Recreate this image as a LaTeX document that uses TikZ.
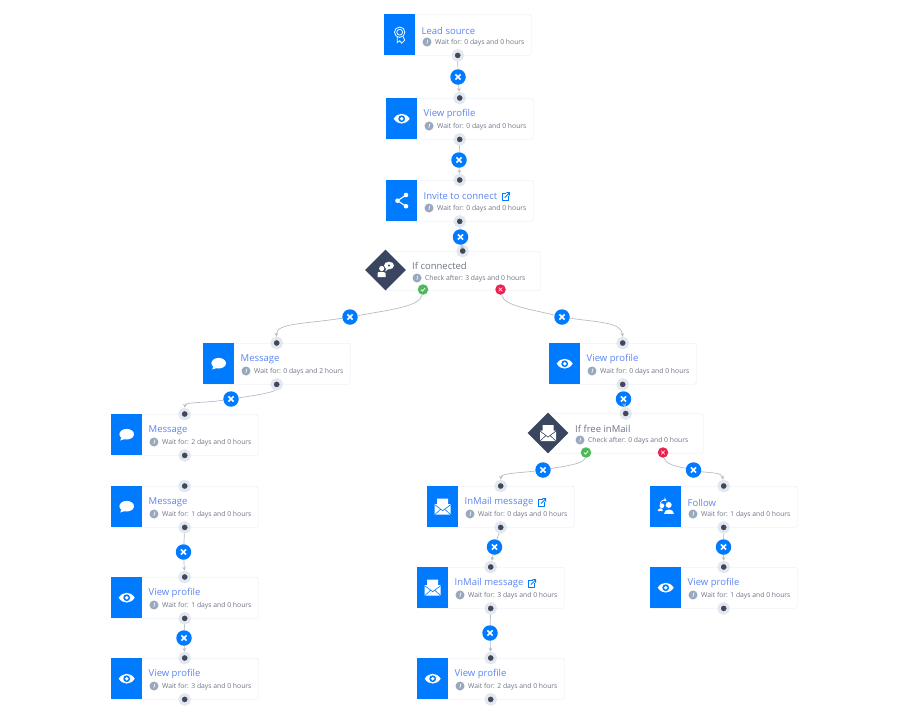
\documentclass[tikz,border=0pt]{standalone}
\usepackage{fontspec}
\setmainfont{Open Sans}
\usetikzlibrary{calc,shapes.geometric}
\definecolor{flowblue}{HTML}{007BFF}
\definecolor{flowdark}{HTML}{3A4560}
\definecolor{flowedge}{HTML}{DFEAF5}
\definecolor{flowtitle}{HTML}{5C85F5}
\definecolor{flowgrey}{HTML}{6E7585}
\definecolor{flowclock}{HTML}{9AA8BD}
\definecolor{flowline}{HTML}{B8BCC6}
\definecolor{flowport}{HTML}{E3E8F0}
\definecolor{flowdot}{HTML}{414858}
\definecolor{flowyes}{HTML}{4CBA5A}
\definecolor{flowno}{HTML}{E8234F}
\begin{document}
\begin{tikzpicture}[x=1pt,y=-1pt,>=stealth,
    card/.style={draw=flowedge,rounded corners=1.5pt,fill=white,minimum width=147pt,minimum height=41pt,inner sep=0pt,anchor=north west},
    ifcard/.style={card,minimum width=155pt,minimum height=39.5pt},
    bluebox/.style={fill=flowblue,minimum width=31pt,minimum height=41pt,inner sep=0pt,anchor=north west},
    gem/.style={diamond,aspect=1,fill=flowdark,minimum width=41pt,minimum height=41pt,inner sep=0pt},
    ttl/.style={font=\fontsize{9.5}{11}\selectfont,text=flowtitle,inner sep=0pt,anchor=west},
    iftxt/.style={ttl,text=flowgrey},
    sub/.style={font=\fontsize{6.8}{8}\selectfont,text=flowgrey,inner sep=0pt,anchor=west},
    clock/.style={circle,fill=flowclock,minimum size=9pt,inner sep=0pt},
    port/.style={circle,fill=flowdot,draw=flowport,line width=3.2pt,minimum size=9.4pt,inner sep=0pt},
    xbtn/.style={circle,fill=flowblue,minimum size=15.5pt,inner sep=0pt},
    yes/.style={circle,fill=flowyes,minimum size=10.5pt,inner sep=0pt},
    no/.style={circle,fill=flowno,minimum size=10.5pt,inner sep=0pt},
    link/.style={draw=flowline,line width=.7pt},
    eyeicon/.pic={\fill[white] (-8,0) .. controls (-4,-6.5) and (4,-6.5) .. (8,0) .. controls (4,6.5) and (-4,6.5) .. (-8,0) -- cycle;
      \fill[flowblue] (0,0) circle (3.4); \fill[white] (0,0) circle (1.9);},
    chaticon/.pic={\fill[white] (0,-.5) ellipse (7.3 and 5.3); \fill[white] (-5,2) -- (-6.5,5.8) -- (-1,4) -- cycle;},
    shareicon/.pic={\draw[white,line width=1.1pt] (4.3,-5.7) -- (-4.2,0) -- (4.3,5.5);
      \fill[white] (4.3,-5.7) circle (2.3) (-4.2,0) circle (2.3) (4.3,5.5) circle (2.3);},
    mailicon/.pic={\fill[white] (-8,-2.5) -- (-5.5,-2.5) -- (-5.5,-8) -- (5.5,-8) -- (5.5,-2.5) -- (8,-2.5) -- (8,8) -- (-8,8) -- cycle;
      \draw[pic actions,line width=.6pt] (-8,-2) -- (0,4) -- (8,-2) (-8,8) -- (-2,2.5) (8,8) -- (2,2.5);},
    awardicon/.pic={\draw[white,line width=.8pt] (0,-2.5) circle (5.2) (0,-2.5) circle (2.9);
      \draw[white,line width=.8pt] (-2.5,2) -- (-2.5,8) -- (0,6) -- (2,8.5) -- (5,5.5) -- (3.5,2);},
    followicon/.pic={\fill[white] (3,-1.8) circle (3) (-3.8,-1) circle (2.4);
      \fill[white] (-2,7) .. controls (-2,1.5) and (8,1.5) .. (8,7) -- cycle;
      \fill[white] (-8,4.5) .. controls (-8,1) and (-3,1) .. (-3,3) -- (-3,4.5) -- cycle;
      \draw[white,line width=.7pt,->] (-5.5,-3) .. controls (-5,-6.5) and (-1,-7) .. (1,-5.5);},
    askicon/.pic={\fill[white] (-3.8,-1.5) circle (2.6);
      \fill[white] (-8,7) -- (-8,3) .. controls (-8,1.5) and (-1,1.5) .. (0,3) -- (0,7) -- cycle;
      \fill[white] (3.5,-4.5) ellipse (5 and 3.8); \fill[white] (1,-2) -- (-.5,1.5) -- (3,-1) -- cycle;
      \fill[flowdark] (3.5,-4.5) circle (1.2);},
    extlink/.pic={\draw[flowblue,line width=.75pt,line join=round] (1,-3) -- (-3.2,-3) -- (-3.2,3.5) -- (3.3,3.5) -- (3.3,-.5);
      \draw[flowblue,line width=.9pt] (-.6,1.1) -- (4,-3.7) (.9,-4) -- (4,-4) -- (4,-.9);}]
  \useasboundingbox (0,0) rectangle (906,715);
  % action cards
  \foreach \nm/\x/\y/\ttlt/\subt/\ico in {
      lead/384/14/Lead source/Wait for: 0 days and 0 hours/awardicon,
      viewa/386/98/View profile/Wait for: 0 days and 0 hours/eyeicon,
      invite/386/180/Invite to connect/Wait for: 0 days and 0 hours/shareicon,
      msga/203/343/Message/Wait for: 0 days and 2 hours/chaticon,
      viewb/549/343/View profile/Wait for: 0 days and 0 hours/eyeicon,
      msgb/111/414/Message/Wait for: 2 days and 0 hours/chaticon,
      msgc/111/486/Message/Wait for: 1 days and 0 hours/chaticon,
      maila/427/486/InMail message/Wait for: 0 days and 0 hours/mailicon,
      follow/650/486/Follow/Wait for: 1 days and 0 hours/followicon,
      viewc/111/577/View profile/Wait for: 1 days and 0 hours/eyeicon,
      mailb/417/567/InMail message/Wait for: 3 days and 0 hours/mailicon,
      viewd/650/567/View profile/Wait for: 1 days and 0 hours/eyeicon,
      viewe/111/658/View profile/Wait for: 3 days and 0 hours/eyeicon,
      viewf/417/658/View profile/Wait for: 2 days and 0 hours/eyeicon}{
    \node[card] (\nm) at (\x,\y) {};
    \node[bluebox] (\nm-box) at (\x,\y) {};
    \pic[flowblue] at (\nm-box.center) {\ico};
    \node[ttl] (\nm-ttl) at (\x+37.5,\y+16.5) {\ttlt};
    \node[clock] (\nm-clk) at (\x+43,\y+28) {};
    \draw[white,line width=.6pt] (\x+44,\y+25.5) -- (\x+42.8,\y+30);
    \node[sub] (\nm-sub) at (\x+51,\y+29) {\subt};
  }
  % condition cards
  \node[ifcard] (ifa) at (385,251) {};
  \node[gem] (ifa-gem) at (385.5,270) {};
  \pic at (ifa-gem.center) {askicon};
  \node[iftxt] (ifa-ttl) at (412,265.5) {If connected};
  \node[clock] (ifa-clk) at (417,278) {};
  \draw[white,line width=.6pt] (418,275.5) -- (416.8,280);
  \node[sub] (ifa-sub) at (425,279) {Check after: 3 days and 0 hours};
  \node[ifcard] (ifb) at (548,413.5) {};
  \node[gem] (ifb-gem) at (548,433) {};
  \pic[flowdark] at (ifb-gem.center) {mailicon};
  \node[iftxt] (ifb-ttl) at (575,428.5) {If free inMail};
  \node[clock] (ifb-clk) at (580,440) {};
  \draw[white,line width=.6pt] (581,437.5) -- (579.8,442);
  \node[sub] (ifb-sub) at (588,441) {Check after: 0 days and 0 hours};
  % external link marks
  \pic at ([xshift=8pt]invite-ttl.east) {extlink};
  \pic at ([xshift=8pt]maila-ttl.east) {extlink};
  \pic at ([xshift=8pt]mailb-ttl.east) {extlink};
  % ports
  \node[port] (lead-b) at (lead.south) {};
  \foreach \nm in {viewa,invite,msga,viewb,msgb,msgc,maila,follow,viewc,mailb,viewd,viewe,viewf}{
    \node[port] (\nm-t) at (\nm.north) {};
    \node[port] (\nm-b) at (\nm.south) {};
  }
  \node[port] (ifa-t) at (ifa.north) {};
  \node[port] (ifb-t) at (ifb.north) {};
  % yes and no badges
  \node[yes] (ifa-yes) at (423,289.5) {};
  \node[no] (ifa-no) at (500.5,289.5) {};
  \node[yes] (ifb-yes) at (586,452.5) {};
  \node[no] (ifb-no) at (663,452.5) {};
  \foreach \nm in {ifa-yes,ifb-yes}{
    \draw[white,line width=.7pt] ([shift={(-2,0)}]\nm.center) -- ([shift={(-.5,1.6)}]\nm.center) -- ([shift={(2.2,-1.6)}]\nm.center);
  }
  \foreach \nm in {ifa-no,ifb-no}{
    \draw[white,line width=.6pt] ([shift={(-1.8,-1.8)}]\nm.center) -- ([shift={(1.8,1.8)}]\nm.center) ([shift={(-1.8,1.8)}]\nm.center) -- ([shift={(1.8,-1.8)}]\nm.center);
  }
  % delete buttons
  \foreach \nm/\x/\y in {xa/458/77,xb/459/160,xc/460.5/237,xd/350/317,xe/562/317,xf/231/399,xg/623.5/399,
      xh/543/470,xi/693.5/470,xj/183.5/552,xk/184/638,xl/494.5/547,xm/490/633,xn/723.5/547}{
    \node[xbtn] (\nm) at (\x,\y) {};
    \draw[white,line width=1.5pt] ([shift={(-2.6,-2.6)}]\nm.center) -- ([shift={(2.6,2.6)}]\nm.center) ([shift={(-2.6,2.6)}]\nm.center) -- ([shift={(2.6,-2.6)}]\nm.center);
  }
  % straight links
  \foreach \a/\m/\b in {lead-b/xa/viewa-t,viewa-b/xb/invite-t,invite-b/xc/ifa-t,viewb-b/xg/ifb-t,
      msgc-b/xj/viewc-t,viewc-b/xk/viewe-t,maila-b/xl/mailb-t,mailb-b/xm/viewf-t,follow-b/xn/viewd-t}{
    \draw[link] (\a) -- (\m);
    \draw[link,->] (\m) -- (\b);
  }
  % curved links
  \draw[link] (ifa-yes) .. controls (420,306) and (395,309) .. (xd);
  \draw[link,->] (xd) .. controls (305,324) and (276,323) .. (msga-t);
  \draw[link] (ifa-no) .. controls (504,306) and (530,309) .. (xe);
  \draw[link,->] (xe) .. controls (595,322) and (622,322) .. (viewb-t);
  \draw[link] (msga-b) .. controls (274,392) and (258,395) .. (xf);
  \draw[link,->] (xf) .. controls (205,403) and (185,402) .. (msgb-t);
  \draw[link] (ifb-yes) .. controls (584,464) and (565,466) .. (xh);
  \draw[link,->] (xh) .. controls (520,473) and (501,473) .. (maila-t);
  \draw[link] (ifb-no) .. controls (665,464) and (675,466) .. (xi);
  \draw[link,->] (xi) .. controls (708,473) and (722,472) .. (follow-t);
\end{tikzpicture}
\end{document}
